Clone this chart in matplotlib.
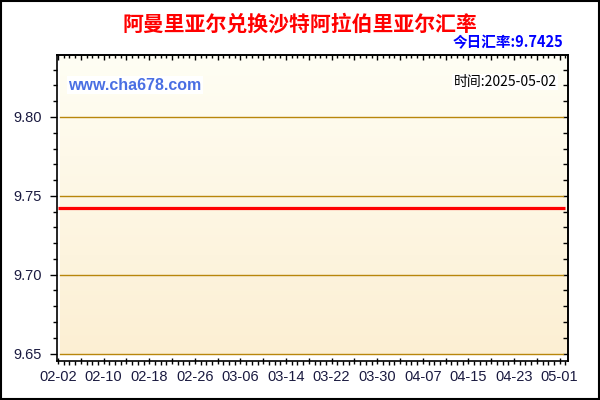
import matplotlib
matplotlib.use('Agg')
import matplotlib.pyplot as plt
import matplotlib.dates as mdates
import matplotlib.patches as mpatches
from matplotlib.colors import LinearSegmentedColormap
from matplotlib.ticker import FixedLocator, MultipleLocator, FuncFormatter
import numpy as np
import pandas as pd

# Texts
title = '阿曼里亚尔兑换沙特阿拉伯里亚尔汇率'
today_label = '今日汇率:9.7425'
site_label = 'www.cha678.com'
time_label = '时间:2025-05-02'

# Daily rate, 02-02 .. 05-02 (flat over the whole period)
dates = pd.date_range('2025-02-02', '2025-05-02', freq='D')
rates = [9.7425, 9.7425, 9.7425, 9.7425, 9.7425, 9.7425, 9.7425, 9.7425, 9.7425, 9.7425,
         9.7425, 9.7425, 9.7425, 9.7425, 9.7425, 9.7425, 9.7425, 9.7425, 9.7425, 9.7425,
         9.7425, 9.7425, 9.7425, 9.7425, 9.7425, 9.7425, 9.7425, 9.7425, 9.7425, 9.7425,
         9.7425, 9.7425, 9.7425, 9.7425, 9.7425, 9.7425, 9.7425, 9.7425, 9.7425, 9.7425,
         9.7425, 9.7425, 9.7425, 9.7425, 9.7425, 9.7425, 9.7425, 9.7425, 9.7425, 9.7425,
         9.7425, 9.7425, 9.7425, 9.7425, 9.7425, 9.7425, 9.7425, 9.7425, 9.7425, 9.7425,
         9.7425, 9.7425, 9.7425, 9.7425, 9.7425, 9.7425, 9.7425, 9.7425, 9.7425, 9.7425,
         9.7425, 9.7425, 9.7425, 9.7425, 9.7425, 9.7425, 9.7425, 9.7425, 9.7425, 9.7425,
         9.7425, 9.7425, 9.7425, 9.7425, 9.7425, 9.7425, 9.7425, 9.7425, 9.7425, 9.7425]

y_ticks = [9.65, 9.70, 9.75, 9.80]

cjk = ['Noto Sans CJK SC', 'DejaVu Sans']
label_color = '#1a1a40'
grid_color = '#B8860B'

fig = plt.figure(figsize=(6, 4), dpi=100)
fig.patches.append(mpatches.Rectangle((0.002, 0.003), 0.996, 0.994, transform=fig.transFigure,
                                      fill=False, edgecolor='black', linewidth=1.5))

ax = fig.add_axes([57 / 600, 1 - 361 / 400, 511 / 600, 306 / 400])

# Background gradient (light cream at the top, warmer at the bottom)
cmap = LinearSegmentedColormap.from_list('bg', ['#FCEFD3', '#FFFEF4'])
ax.imshow(np.linspace(0, 1, 256).reshape(-1, 1), cmap=cmap, origin='lower', aspect='auto',
          extent=[0.006, 1, 0.02, 0.994], transform=ax.transAxes, zorder=0)

x_nums = mdates.date2num(dates)
ax.set_xlim(x_nums[0] - 0.18, x_nums[-1] + 0.47)
ax.set_ylim(9.6453, 9.8393)
ax.set_autoscale_on(False)

for y in y_ticks:
    ax.axhline(y, xmin=0.006, xmax=0.99, color=grid_color, linewidth=1, zorder=1)

ax.plot(x_nums, rates, color='#FF0000', linewidth=2.3, solid_capstyle='butt', zorder=3)

# x ticks: every 4 days crossing the axis, labels every 8 days, daily minor ticks
major_x = x_nums[::4]
ax.xaxis.set_major_locator(FixedLocator(major_x))
ax.xaxis.set_minor_locator(FixedLocator(x_nums))
ax.xaxis.set_major_formatter(FuncFormatter(
    lambda v, pos: mdates.num2date(v).strftime('%m-%d') if pos is not None and pos % 2 == 0 else ''))
ax.tick_params(axis='x', which='major', direction='inout', length=5, width=1, pad=4,
               labelsize=10.5, labelcolor=label_color)
ax.tick_params(axis='x', which='minor', direction='out', length=3, width=1)

# y ticks
ax.yaxis.set_major_locator(FixedLocator(y_ticks))
ax.yaxis.set_minor_locator(MultipleLocator(0.01))
ax.yaxis.set_major_formatter(FuncFormatter(lambda v, pos: f'{v:.2f}'))
ax.tick_params(axis='y', which='major', direction='out', length=5, width=1, pad=6,
               labelsize=10.5, labelcolor=label_color)
ax.tick_params(axis='y', which='minor', direction='out', length=3, width=1)

for lab in ax.get_xticklabels() + ax.get_yticklabels():
    lab.set_family('Liberation Sans')

# top and right axes with inward ticks
top = ax.secondary_xaxis('top')
top.xaxis.set_major_locator(FixedLocator(major_x))
top.xaxis.set_minor_locator(FixedLocator(x_nums))
top.tick_params(which='major', direction='in', length=3.5, width=1, labeltop=False)
top.tick_params(which='minor', direction='in', length=2.5, width=1)
top.xaxis.set_major_formatter(FuncFormatter(lambda v, pos: ''))

right = ax.secondary_yaxis('right')
right.yaxis.set_major_locator(MultipleLocator(0.01))
right.tick_params(direction='in', length=3.5, width=1, labelright=False)
right.yaxis.set_major_formatter(FuncFormatter(lambda v, pos: ''))

for sp in list(ax.spines.values()) + [top.spines['top'], right.spines['right']]:
    sp.set_linewidth(1.2)
    sp.set_color('black')

# Titles and annotations
fig.text(0.5, 1 - 24 / 400, title, ha='center', va='center', fontsize=15,
         fontweight='bold', color='#FF0000', family=cjk)
fig.text(563 / 600, 1 - 42.5 / 400, today_label, ha='right', va='center', fontsize=10.5,
         fontweight='bold', color='#0000FF', family=cjk)
fig.text(68 / 600, 1 - 85 / 400, site_label, ha='left', va='center', fontsize=11.5,
         fontweight='bold', color='#4A6FE3', family='Liberation Sans',
         bbox=dict(facecolor='white', edgecolor='none', pad=1))
fig.text(557 / 600, 1 - 82 / 400, time_label, ha='right', va='center', fontsize=10,
         color='black', family=cjk, bbox=dict(facecolor='white', edgecolor='none', pad=1))

fig.savefig('out.png', dpi=100)
